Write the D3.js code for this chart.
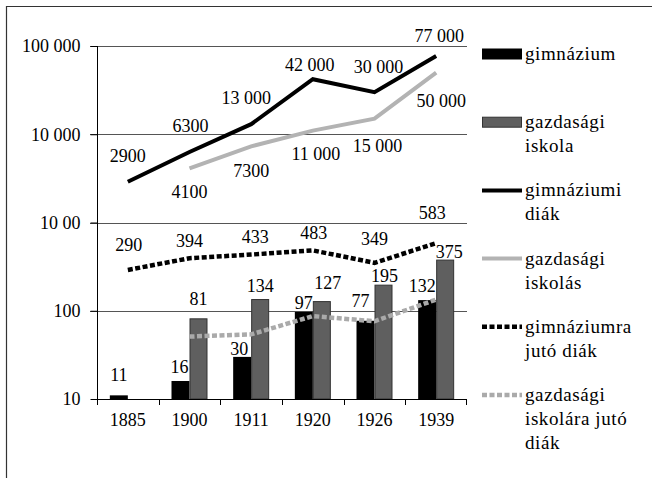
<!DOCTYPE html>
<html><head><meta charset="utf-8">
<script src="https://cdn.jsdelivr.net/npm/d3@7/dist/d3.min.js"></script>
<style>
html,body{margin:0;padding:0;background:#fff;}
svg{display:block;font-family:"Liberation Serif","DejaVu Serif",serif;}
</style></head>
<body>
<svg id="chart" width="652" height="478"></svg>
<script>
// ---- data ----
const years = ["1885","1900","1911","1920","1926","1939"];
const gimnazium = [11, 16, 30, 97, 77, 132];
const gazdasagiIskola = [null, 81, 134, 127, 195, 375];
const gimnaziumiDiak = [2900, 6300, 13000, 42000, 30000, 77000];
const gazdasagiIskolas = [null, 4100, 7300, 11000, 15000, 50000];
const gimnaziumraJuto = [290, 394, 433, 483, 349, 583];
const gazdasagiIskolaraJuto = [null, 51, 54, 87, 76, 134];
const yTickValues = [10, 100, 1000, 10000, 100000];
const yTickLabels = ["10", "100", "10 00", "10 000", "100 000"];
const gimnaziumiDiakLabels = ["2900","6300","13 000","42 000","30 000","77 000"];
const gazdasagiIskolasLabels = [null,"4100","7300","11 000","15 000","50 000"];
const legendItems = [
  {lines:["gimnázium"], kind:"bar", fill:"#000", stroke:"#000"},
  {lines:["gazdasági","iskola"], kind:"bar", fill:"#5f5f5f", stroke:"#333"},
  {lines:["gimnáziumi","diák"], kind:"line", color:"#000", dash:null},
  {lines:["gazdasági","iskolás"], kind:"line", color:"#b3b3b3", dash:null},
  {lines:["gimnáziumra","jutó diák"], kind:"line", color:"#000", dash:"5,2.5"},
  {lines:["gazdasági","iskolára jutó","diák"], kind:"line", color:"#aaaaaa", dash:"5,2.5"}
];

// ---- layout (label nudges, px) ----
const lblGimDiak = [[0,-26],[1,-26],[-5,-26],[-3,-15],[4,-25],[3,-20]];
const lblGazdIsk = [null,[0,23],[0,24],[3,23],[3,27],[5,28]];
const lblGimJuto = [[1,-25],[0,-17],[4,-18],[1,-18],[0,-24],[-4,-30]];
const lblBarGim = [[0,-21],[-1,-14],[-3,-8],[0,-9],[-5,-20],[-5,-14]];
const lblBarGazd = [null,[0,-20],[0,-14],[6,-19],[1,-9],[4,-8]];

const svg = d3.select("#chart");
const L = 97, R = 467, T = 46, B = 399;
const x = d3.scaleBand().domain(years).range([L, R]).padding(0);
const y = d3.scaleLog().domain([10, 100000]).range([B, T]);
const cx = d => x(d) + x.bandwidth()/2;
const barW = 18;

// frame
svg.append("line").attr("x1",6).attr("x2",652).attr("y1",6.5).attr("y2",6.5).attr("stroke","#333").attr("stroke-width",1.2);
svg.append("line").attr("x1",6.5).attr("x2",6.5).attr("y1",6).attr("y2",478).attr("stroke","#333").attr("stroke-width",1.2);

// gridlines
svg.append("g").selectAll("line").data(yTickValues.slice(1)).join("line")
  .attr("x1", L-7).attr("x2", R)
  .attr("y1", d => Math.round(y(d))+0.5).attr("y2", d => Math.round(y(d))+0.5)
  .attr("stroke","#555").attr("stroke-width",1);

// y axis
const yAxis = d3.axisLeft(y).tickValues(yTickValues).tickFormat((d,i)=>yTickLabels[i]).tickSize(7).tickPadding(10);
const gy = svg.append("g").attr("transform",`translate(${L+0.5},0)`).call(yAxis);
gy.select(".domain").remove();
gy.selectAll(".tick line").attr("stroke","#000");
gy.selectAll("text").attr("font-size",18).attr("font-family","Liberation Serif").attr("fill","#000");
svg.append("line").attr("x1",L+0.5).attr("x2",L+0.5).attr("y1",T).attr("y2",B+6).attr("stroke","#000");

// bars
const gb = svg.append("g");
gb.selectAll("rect.g").data(years).join("rect").attr("class","g")
  .attr("x", d => cx(d)-barW).attr("width", barW)
  .attr("y", (d,i) => y(gimnazium[i])).attr("height",(d,i)=> B - y(gimnazium[i]))
  .attr("fill","#000");
gb.selectAll("rect.z").data(years.filter((d,i)=>gazdasagiIskola[i]!=null)).join("rect").attr("class","z")
  .attr("x", d => cx(d)+0.5).attr("width", barW-1)
  .attr("y", d => y(gazdasagiIskola[years.indexOf(d)])).attr("height", d => B - y(gazdasagiIskola[years.indexOf(d)]))
  .attr("fill","#5f5f5f").attr("stroke","#333").attr("stroke-width",1);

// x axis
const xAxis = d3.axisBottom(x).tickSize(0).tickPadding(14);
const gx = svg.append("g").attr("transform",`translate(0,${B+0.5})`).call(xAxis);
gx.select(".domain").attr("stroke","#000").attr("d",`M${L},0H${R}`);
gx.selectAll("text").attr("font-size",18).attr("font-family","Liberation Serif").attr("fill","#000");
svg.append("g").selectAll("line").data(years.slice(1).concat(["end"])).join("line")
  .attr("x1", d => d==="end" ? R-0.5 : Math.round(x(d))+0.5).attr("x2", d => d==="end" ? R-0.5 : Math.round(x(d))+0.5)
  .attr("y1", B).attr("y2", B+6).attr("stroke","#000");

// lines
function drawLine(vals, color, width, dash){
  const pts = years.map((d,i)=>[cx(d), vals[i]]).filter(p=>p[1]!=null);
  const p = svg.append("path").datum(pts)
    .attr("d", d3.line().x(p=>p[0]).y(p=>y(p[1])))
    .attr("fill","none").attr("stroke",color).attr("stroke-width",width)
    .attr("stroke-linejoin","miter");
  if(dash) p.attr("stroke-dasharray",dash);
}
drawLine(gazdasagiIskolaraJuto, "#aaaaaa", 4.5, "5,2.5");
drawLine(gimnaziumraJuto, "#000", 4.5, "5,2.5");
drawLine(gazdasagiIskolas, "#b3b3b3", 4, null);
drawLine(gimnaziumiDiak, "#000", 4, null);

// labels
const lab = svg.append("g").attr("font-size",18).attr("text-anchor","middle").attr("fill","#000");
function addLabel(xp, yp, txt){
  lab.append("text").attr("x",xp).attr("y",yp).attr("dy","0.35em").text(txt);
}
years.forEach((d,i)=>{
  addLabel(cx(d)+lblGimDiak[i][0], y(gimnaziumiDiak[i])+lblGimDiak[i][1], gimnaziumiDiakLabels[i]);
  if(gazdasagiIskolas[i]!=null) addLabel(cx(d)+lblGazdIsk[i][0], y(gazdasagiIskolas[i])+lblGazdIsk[i][1], gazdasagiIskolasLabels[i]);
  addLabel(cx(d)+lblGimJuto[i][0], y(gimnaziumraJuto[i])+lblGimJuto[i][1], String(gimnaziumraJuto[i]));
  addLabel(cx(d)-barW/2+lblBarGim[i][0], y(gimnazium[i])+lblBarGim[i][1], String(gimnazium[i]));
  if(gazdasagiIskola[i]!=null) addLabel(cx(d)+barW/2+lblBarGazd[i][0], y(gazdasagiIskola[i])+lblBarGazd[i][1], String(gazdasagiIskola[i]));
});

// legend
const lg = svg.append("g");
const legY0 = 54, legStep = 68.2, mx0 = 482, mx1 = 522, tx = 525;
legendItems.forEach((it,k)=>{
  const yy = legY0 + k*legStep;
  if(it.kind==="bar"){
    lg.append("rect").attr("x",mx0+0.5).attr("y",yy-5).attr("width",mx1-mx0-1).attr("height",10)
      .attr("fill",it.fill).attr("stroke",it.stroke).attr("stroke-width",1);
  } else {
    const l = lg.append("line").attr("x1",mx0).attr("x2",mx1).attr("y1",yy).attr("y2",yy)
      .attr("stroke",it.color).attr("stroke-width",it.dash?4.5:4);
    if(it.dash) l.attr("stroke-dasharray",it.dash);
  }
  it.lines.forEach((s,j)=>{
    lg.append("text").attr("x",tx).attr("y",yy+6+j*24).attr("font-size",19).attr("letter-spacing",0.6).attr("fill","#000").text(s);
  });
});
</script>
</body></html>
